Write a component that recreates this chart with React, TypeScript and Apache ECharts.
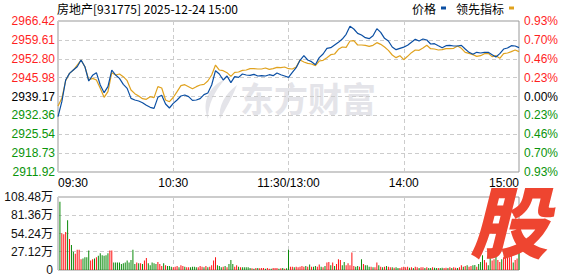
import React, { useEffect, useRef } from 'react';
import * as echarts from 'echarts';

const PREV_CLOSE = 2939.17;
const STEP = 6.8125;

const title = '房地产[931775] 2025-12-24 15:00';
const seriesNames = ['价格', '领先指标'];
const timeLabels = ['09:30', '10:30', '11:30/13:00', '14:00', '15:00'];
const priceTicks = ['2911.92', '2918.73', '2925.54', '2932.36', '2939.17', '2945.98', '2952.80', '2959.61', '2966.42'];
const pctTicks = ['0.93%', '0.70%', '0.46%', '0.23%', '0.00%', '0.23%', '0.46%', '0.70%', '0.93%'];
const volTicks = ['0', '27.12万', '54.24万', '81.36万', '108.48万'];

// one point every 2 minutes, 09:30 .. 15:00
const priceLine = [
  2931.89, 2937.30, 2945.12, 2947.53, 2948.73, 2949.93, 2952.34, 2949.93, 2944.76, 2946.80,
  2947.77, 2943.32, 2940.55, 2942.72, 2948.73, 2946.93, 2945.72, 2943.56, 2942.11, 2938.50,
  2937.90, 2937.54, 2936.94, 2935.98, 2935.26, 2934.90, 2938.87, 2939.59, 2936.46, 2935.02,
  2936.70, 2937.90, 2939.35, 2939.71, 2939.11, 2937.78, 2937.90, 2938.39, 2939.83, 2940.43,
  2943.32, 2948.49, 2947.29, 2945.12, 2946.56, 2944.16, 2946.32, 2946.08, 2947.29, 2946.93,
  2946.80, 2947.17, 2946.56, 2946.68, 2946.56, 2947.04, 2946.68, 2947.65, 2947.04, 2946.56,
  2946.08, 2947.89, 2949.58, 2952.22, 2953.91, 2952.34, 2951.74, 2950.66, 2953.19, 2954.51,
  2956.55, 2956.79, 2957.76, 2958.72, 2959.92, 2961.60, 2964.50, 2963.53, 2961.97, 2961.36,
  2960.40, 2960.04, 2961.12, 2963.65, 2962.33, 2960.16, 2959.20, 2957.03, 2956.07, 2956.55,
  2957.00, 2957.64, 2958.72, 2959.80, 2959.20, 2959.92, 2959.56, 2958.12, 2958.24, 2957.51,
  2956.79, 2957.51, 2957.64, 2957.40, 2957.40, 2957.64, 2956.31, 2955.11, 2954.39, 2955.11,
  2954.87, 2955.11, 2955.11, 2954.27, 2953.43, 2954.63, 2956.31, 2956.67, 2957.51, 2957.40,
  2956.80,
];

const leadLine = [
  2935.74, 2938.50, 2944.88, 2947.53, 2948.73, 2950.53, 2952.34, 2949.93, 2945.12, 2945.72,
  2945.12, 2942.11, 2938.87, 2940.91, 2947.77, 2946.93, 2947.29, 2946.32, 2944.88, 2941.51,
  2940.19, 2939.35, 2938.39, 2938.15, 2939.11, 2938.75, 2942.72, 2942.23, 2937.90, 2937.30,
  2938.80, 2940.91, 2943.08, 2943.44, 2942.72, 2942.00, 2942.72, 2943.32, 2943.56, 2944.76,
  2946.93, 2950.53, 2948.73, 2948.49, 2947.77, 2946.44, 2947.89, 2948.01, 2948.61, 2948.73,
  2949.21, 2949.21, 2949.09, 2949.09, 2949.45, 2948.97, 2949.21, 2949.69, 2949.57, 2949.81,
  2949.21, 2949.10, 2949.82, 2952.34, 2951.62, 2951.14, 2950.90, 2950.30, 2951.98, 2952.22,
  2953.19, 2954.27, 2954.51, 2956.19, 2957.03, 2956.91, 2959.20, 2959.32, 2957.76, 2957.76,
  2957.64, 2957.27, 2957.64, 2958.60, 2958.00, 2957.03, 2955.83, 2954.15, 2953.19, 2953.91,
  2952.46, 2953.67, 2954.99, 2955.95, 2955.83, 2956.67, 2957.64, 2956.43, 2956.31, 2955.95,
  2956.07, 2956.43, 2956.43, 2956.55, 2957.40, 2956.55, 2955.11, 2954.75, 2954.27, 2953.67,
  2953.91, 2954.63, 2954.75, 2953.55, 2953.91, 2952.94, 2954.63, 2954.87, 2955.35, 2955.95,
  2955.35,
];

// volume per minute (万), minutes 1..240
const volume = [
  101.5, 54.5, 53, 56.4, 74, 46, 37, 27, 24, 30,
  30, 16, 17, 19, 19, 29, 14, 16, 17, 19,
  21, 25, 22, 21, 22, 25, 29, 29, 11, 11,
  11, 11, 9, 10, 11, 14, 11, 15, 30, 9,
  11, 10, 10, 9, 14, 18, 10, 7, 11, 10,
  9, 12, 9, 6, 10, 7, 6, 6, 5, 4,
  5, 6, 4, 7, 6, 5, 4, 4, 4, 5,
  5, 4, 4, 6, 5, 4, 6, 4, 5, 7,
  14, 19, 7, 6, 4, 5, 6, 4, 9, 15,
  9, 5, 7, 5, 4, 4, 4, 4, 4, 3,
  2.5, 2, 3, 3, 2.5, 3, 3, 2, 3, 2,
  2, 3, 3, 3, 2, 2.5, 3, 2, 2.5, 30,
  5, 5, 4, 5, 4, 5, 6, 5, 6, 5,
  8, 5, 5, 6, 5, 8, 5, 4, 6, 11,
  12, 7, 11, 6, 9, 16, 15, 7, 12, 7,
  10, 7, 26, 6, 5, 6, 5, 16, 9, 7,
  7, 5, 5, 4, 4, 11, 7, 5, 4, 5,
  6, 5, 4, 4, 3.5, 4, 3, 3, 4, 5,
  4, 5, 3.5, 4, 3, 5, 4, 3, 4, 4,
  3, 4, 3, 3, 4, 3.5, 3, 3, 3, 3.5,
  3, 3.5, 3, 4, 3, 4, 3.5, 3, 4, 7,
  5, 6, 7, 5, 6, 7, 7.5, 5, 9, 12,
  22, 15, 11, 7, 19, 14, 16, 26, 15, 12,
  16, 19, 19, 21, 19, 32, 11, 15, 17, 42,
];

// 1 = up (red), 0 = down (green)
const volUp = [
  0, 1, 1, 1, 0, 1, 0, 0, 1, 1,
  1, 1, 0, 0, 0, 0, 1, 1, 0, 1,
  0, 0, 0, 0, 0, 0, 1, 1, 0, 0,
  0, 0, 0, 0, 0, 0, 0, 0, 0, 0,
  1, 0, 1, 0, 1, 1, 0, 0, 0, 0,
  0, 1, 1, 1, 0, 1, 0, 0, 0, 1,
  1, 1, 0, 1, 1, 0, 1, 1, 0, 0,
  0, 0, 1, 1, 1, 0, 1, 0, 1, 1,
  1, 1, 0, 0, 0, 1, 0, 1, 0, 0,
  0, 1, 1, 0, 1, 0, 0, 0, 0, 0,
  1, 0, 1, 0, 1, 1, 1, 0, 1, 1,
  0, 1, 1, 1, 0, 1, 0, 1, 0, 0,
  1, 1, 0, 1, 1, 1, 1, 1, 0, 1,
  0, 1, 0, 0, 1, 1, 0, 1, 0, 1,
  1, 0, 1, 0, 1, 1, 1, 0, 0, 1,
  1, 1, 1, 1, 0, 0, 1, 0, 1, 0,
  0, 0, 1, 0, 1, 1, 0, 1, 0, 1,
  0, 1, 1, 0, 1, 0, 0, 1, 1, 1,
  1, 1, 0, 1, 0, 1, 1, 0, 1, 1,
  0, 1, 0, 0, 1, 0, 0, 1, 0, 0,
  1, 1, 0, 1, 0, 1, 1, 0, 1, 1,
  0, 1, 0, 1, 1, 0, 0, 1, 0, 0,
  0, 1, 1, 0, 0, 1, 1, 0, 1, 1,
  0, 1, 1, 1, 1, 1, 0, 1, 1, 0,
];

const FONT = '"Liberation Sans", "Noto Sans CJK SC", sans-serif';
const CJK = '"Noto Sans CJK SC", sans-serif';
const RED = '#ff1f1f';
const GREEN = '#0a940a';
const BLUE = '#0b4fa3';
const GOLD = '#e0a21e';
const GRID = '#cccccc';
const BORDER = '#999999';

let registered = false;
function registerLogo() {
  if (registered) return;
  registered = true;
  const d =
    'M24 0 C9 7 0 22 7 40 C7 26 13 13 24 0 Z M36 6 C24 15 17 27 19 40 C25 29 31 19 36 6 Z';
  echarts.graphic.registerShape('dfcfLogo', echarts.graphic.extendPath(d, {}));
}

function levelColor(v: string | number) {
  const k = Math.round(Number(v) / STEP);
  return k > 0 ? RED : k < 0 ? GREEN : '#000000';
}

export default function App() {
  const ref = useRef<HTMLDivElement>(null);

  useEffect(() => {
    if (!ref.current) return;
    registerLogo();
    const chart = echarts.init(ref.current, undefined, { renderer: 'svg' });
    const dash = { type: [4, 3] as any, color: GRID, width: 1 };

    const option: any = {
      animation: false,
      textStyle: { fontFamily: FONT },
      title: {
        text: title,
        left: 57,
        top: 2,
        padding: 0,
        textStyle: { fontSize: 12, fontWeight: 'normal', color: '#000', fontFamily: CJK },
      },
      legend: {
        data: seriesNames,
        right: 64,
        top: 2,
        padding: 0,
        align: 'right',
        icon: 'rect',
        itemWidth: 5,
        itemHeight: 3,
        itemGap: 10,
        selectedMode: false,
        textStyle: { fontSize: 12, color: '#000', fontFamily: CJK },
      },
      grid: [
        { left: 58, top: 21, width: 461, height: 151, show: true, borderColor: BORDER, borderWidth: 1 },
        { left: 58, top: 197, width: 461, height: 73, show: true, borderColor: BORDER, borderWidth: 1 },
      ],
      xAxis: [
        {
          type: 'value', gridIndex: 0, min: 0, max: 240, interval: 60,
          axisLine: { show: false }, axisTick: { show: false },
          splitLine: { show: true, lineStyle: dash },
          axisLabel: {
            formatter: (v: number) => timeLabels[Math.round(v / 60)],
            fontSize: 12, color: '#000', margin: 5, fontFamily: FONT,
            alignMinLabel: 'left', alignMaxLabel: 'right',
          },
        },
        {
          type: 'value', gridIndex: 1, min: 0, max: 240, interval: 60,
          axisLine: { show: false }, axisTick: { show: false }, axisLabel: { show: false },
          splitLine: { show: true, lineStyle: dash },
        },
      ],
      yAxis: [
        {
          type: 'value', gridIndex: 0, min: -4 * STEP, max: 4 * STEP, interval: STEP,
          axisLine: { show: false }, axisTick: { show: false },
          splitLine: { show: true, lineStyle: dash },
          axisLabel: {
            formatter: (v: number) => priceTicks[Math.round(v / STEP) + 4],
            color: levelColor, fontSize: 12, margin: 3, fontFamily: FONT,
          },
        },
        {
          type: 'value', gridIndex: 0, position: 'right', min: -4 * STEP, max: 4 * STEP, interval: STEP,
          axisLine: { show: false }, axisTick: { show: false }, splitLine: { show: false },
          axisLabel: {
            formatter: (v: number) => pctTicks[Math.round(v / STEP) + 4],
            color: levelColor, fontSize: 12, margin: 5, fontFamily: FONT,
          },
        },
        {
          type: 'value', gridIndex: 1, min: 0, max: 108.48, interval: 27.12,
          axisLine: { show: false }, axisTick: { show: false },
          splitLine: { show: true, lineStyle: dash },
          axisLabel: {
            formatter: (v: number) => volTicks[Math.round(v / 27.12)],
            color: '#111', fontSize: 12, margin: 5, fontFamily: FONT,
          },
        },
      ],
      series: [
        {
          name: seriesNames[1], type: 'line', xAxisIndex: 0, yAxisIndex: 0,
          data: leadLine.map((v, i) => [i * 2, v - PREV_CLOSE]),
          showSymbol: false, symbol: 'none',
          lineStyle: { color: GOLD, width: 1.2 }, itemStyle: { color: GOLD },
          z: 3,
        },
        {
          name: seriesNames[0], type: 'line', xAxisIndex: 0, yAxisIndex: 0,
          data: priceLine.map((v, i) => [i * 2, v - PREV_CLOSE]),
          showSymbol: false, symbol: 'none',
          lineStyle: { color: BLUE, width: 1.2 }, itemStyle: { color: BLUE },
          z: 4,
        },
        {
          type: 'bar', xAxisIndex: 1, yAxisIndex: 2, barWidth: 1,
          data: volume.map((v, i) => ({
            value: [i + 1, v],
            itemStyle: { color: volUp[i] ? '#ff1010' : '#0a8a0a' },
          })),
        },
      ],
      graphic: [
        {
          type: 'group', z: 0, silent: true,
          children: [
            { type: 'dfcfLogo', x: 201, y: 79, scaleX: 1, scaleY: 1, style: { fill: '#e4e4e9' } },
            {
              type: 'text', x: 240, y: 97,
              style: {
                text: '东方财富', fill: '#e4e4e9', font: `bold 34px ${CJK}`,
                textVerticalAlign: 'middle', verticalAlign: 'middle',
              },
            },
          ],
        },
        {
          type: 'text', x: 509, y: 218, z: 100, silent: true,
          style: {
            text: '股', fill: '#ee4530', font: `italic 900 78px ${CJK}`,
            textAlign: 'center', align: 'center', textVerticalAlign: 'middle', verticalAlign: 'middle',
          },
        },
      ],
    };

    chart.setOption(option);
    return () => chart.dispose();
  }, []);

  return (
    <div
      ref={ref}
      style={{ position: 'absolute', left: 0, top: 0, width: 578, height: 276, background: '#fff' }}
    />
  );
}
